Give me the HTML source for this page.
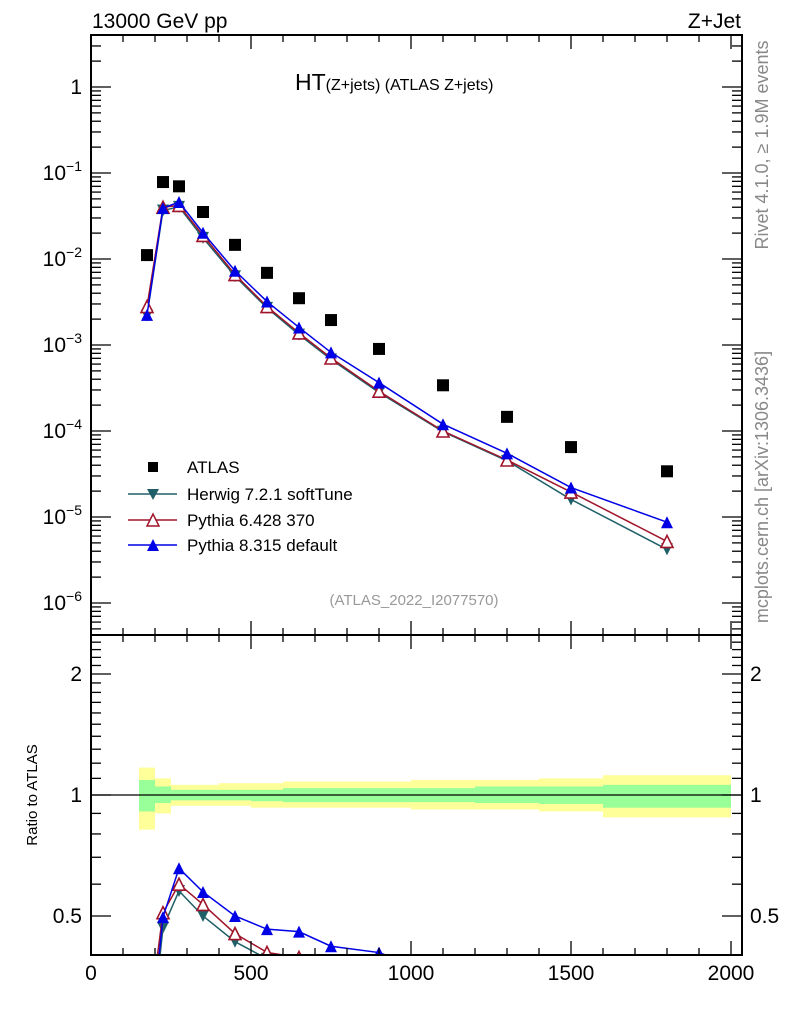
<!DOCTYPE html>
<html><head><meta charset="utf-8"><style>
html,body{margin:0;padding:0;background:#fff;width:786px;height:1024px;overflow:hidden;position:relative}
svg{display:block;font-family:"Liberation Sans",sans-serif}
</style></head><body>
<svg id="c" width="786" height="1024" style="position:absolute;left:0;top:0" xmlns="http://www.w3.org/2000/svg"></svg>
<script>
const binLo=[150,200,250,300,400,500,600,700,800,1000,1200,1400,1600];
const binHi=[200,250,300,400,500,600,700,800,1000,1200,1400,1600,2000];
const xPts=[175,225,275,350,450,550,650,750,900,1100,1300,1500,1800];
const atlas=[0.0111,0.0785,0.070,0.0352,0.0146,0.0069,0.0035,0.00195,0.00090,3.4e-4,1.46e-4,6.5e-5,3.4e-5];
const herwig=[0.0022,0.0367,0.0404,0.0176,0.0063,0.0027,0.00132,0.00068,2.8e-4,9.8e-5,4.5e-5,1.6e-5,4.2e-6];
const pythia6=[0.0028,0.040,0.042,0.0188,0.0066,0.0028,0.00138,7.06e-4,2.9e-4,1.0e-4,4.6e-5,1.95e-5,5.2e-6];
const pythia8=[0.00224,0.039,0.046,0.0202,0.0073,0.0032,0.0016,0.00082,3.65e-4,1.2e-4,5.5e-5,2.2e-5,8.7e-6];
const yellowUp=[1.17,1.10,1.06,1.06,1.07,1.07,1.08,1.08,1.08,1.09,1.09,1.10,1.12];
const yellowDn=[0.82,0.90,0.94,0.94,0.94,0.93,0.93,0.93,0.93,0.92,0.92,0.91,0.88];
const greenUp=[1.09,1.05,1.03,1.03,1.03,1.03,1.04,1.04,1.04,1.04,1.05,1.05,1.06];
const greenDn=[0.91,0.955,0.97,0.97,0.97,0.965,0.96,0.96,0.96,0.96,0.955,0.95,0.93];
const xTicks=[0,500,1000,1500,2000];
const mainTicks=[1,0.1,0.01,0.001,1e-4,1e-5,1e-6];
const mainLabels=["1","10^\u22121","10^\u22122","10^\u22123","10^\u22124","10^\u22125","10^\u22126"];
const ratioTicks=[0.5,1,2];
const ratioLabels=["0.5","1","2"];

const L=91,R=742,T=35,MB=635,B=955;
const X=v=>91+v*0.32;
const Y=v=>87-Math.log10(v)*86;
const RY=v=>795-Math.log2(v)*121;
const svg=document.getElementById('c');
const NS="http://www.w3.org/2000/svg";
function el(t,a,p){const e=document.createElementNS(NS,t);for(const k in a)e.setAttribute(k,a[k]);(p||svg).appendChild(e);return e;}
function txt(s,a,p){const e=el('text',a,p);e.textContent=s;return e;}

const defs=el('defs',{});
const c1=el('clipPath',{id:'cm'},defs);el('rect',{x:L,y:T,width:R-L,height:MB-T},c1);
const c2=el('clipPath',{id:'cr'},defs);el('rect',{x:L,y:MB,width:R-L,height:B-MB},c2);

const bands=el('g',{'clip-path':'url(#cr)'});


binLo.forEach((lo,i)=>{
  const y=el('rect',{x:X(lo),y:RY(yellowUp[i]),width:X(binHi[i])-X(lo),height:RY(yellowDn[i])-RY(yellowUp[i]),fill:'#ffff99'},bands);
  
  
  const g=el('rect',{x:X(lo),y:RY(greenUp[i]),width:X(binHi[i])-X(lo),height:RY(greenDn[i])-RY(greenUp[i]),fill:'#99ff99'},bands);
  
  
});
el('line',{x1:L,x2:R,y1:RY(1),y2:RY(1),stroke:'#000','stroke-width':1.2});

function marker(type,x,y,color,p){
  const s=6;
  if(type==='sq') return el('rect',{x:x-6,y:y-6,width:12,height:12,fill:'#000'},p);
  if(type==='dn') return el('polygon',{points:`${x-s},${y-s} ${x+s},${y-s} ${x},${y+s}`,fill:color},p);
  if(type==='up') return el('polygon',{points:`${x-s},${y+s} ${x+s},${y+s} ${x},${y-s}`,fill:color},p);
  if(type==='open') return el('polygon',{points:`${x-s},${y+s} ${x+s},${y+s} ${x},${y-s}`,fill:'#fff',stroke:color,'stroke-width':1.6},p);
}
const series=[
  {name:'herwig',vals:herwig,color:'#1f6068',m:'dn'},
  {name:'pythia6',vals:pythia6,color:'#a0142a',m:'open'},
  {name:'pythia8',vals:pythia8,color:'#0000e6',m:'up'}];

const gm=el('g',{'clip-path':'url(#cm)'});
series.forEach(s=>{
  const pts=xPts.map((x,i)=>X(x)+','+Y(s.vals[i])).join(' ');
  const ln=el('polyline',{points:pts,fill:'none',stroke:s.color,'stroke-width':1.5},gm);
  
  
  xPts.forEach((x,i)=>{const m=marker(s.m,X(x),Y(s.vals[i]),s.color,gm);
    
    });
});
xPts.forEach((x,i)=>{const m=marker('sq',X(x),Y(atlas[i]),'#000',gm);
  
  });

const gr=el('g',{'clip-path':'url(#cr)'});
series.forEach(s=>{
  const pts=xPts.map((x,i)=>X(x)+','+RY(s.vals[i]/atlas[i])).join(' ');
  const ln=el('polyline',{points:pts,fill:'none',stroke:s.color,'stroke-width':1.5},gr);
  
  
  xPts.forEach((x,i)=>{const m=marker(s.m,X(x),RY(s.vals[i]/atlas[i]),s.color,gr);
    
    });
});

el('rect',{x:L,y:T,width:R-L,height:MB-T,fill:'none',stroke:'#000','stroke-width':2});
el('rect',{x:L,y:MB,width:R-L,height:B-MB,fill:'none',stroke:'#000','stroke-width':2});

for(let v=0;v<=2000;v+=100){
  const maj=v%500===0, len=maj?14:7;
  [[T,1],[MB,-1],[MB,1],[B,-1]].forEach(([y0,d])=>el('line',{x1:X(v),x2:X(v),y1:y0,y2:y0+d*len,stroke:'#000','stroke-width':1.3}));
}
xTicks.forEach(v=>{const t=txt(String(v),{x:X(v),y:980,'font-size':21,'text-anchor':'middle'});
  
  });

for(let e=-7;e<=0;e++){
  for(let k=1;k<10;k++){
    const v=k*Math.pow(10,e), y=Y(v);
    if(y<T||y>MB)continue;
    const len=k===1?20:10;
    el('line',{x1:L,x2:L+len,y1:y,y2:y,stroke:'#000','stroke-width':1.3});
    el('line',{x1:R,x2:R-len,y1:y,y2:y,stroke:'#000','stroke-width':1.3});
  }
}
mainTicks.forEach((v,i)=>{
  const y=Y(v);
  const t=el('text',{x:82,y:y+7,'font-size':21,'text-anchor':'end'});
  
  
  const lab=mainLabels[i];
  if(lab==='1'){t.textContent='1';}
  else{const p=lab.split('^');
    const a=document.createElementNS(NS,'tspan');a.textContent=p[0];t.appendChild(a);
    const b=document.createElementNS(NS,'tspan');b.textContent=p[1];b.setAttribute('font-size','14');b.setAttribute('dy','-9');t.appendChild(b);}
});

for(let v=0.4;v<=2.55;v+=0.1){
  const y=RY(v); if(y<MB||y>B)continue;
  const r=Math.round(v*10)/10, maj=(r===0.5||r===1||r===2);
  const len=maj?20:10;
  el('line',{x1:L,x2:L+len,y1:y,y2:y,stroke:'#000','stroke-width':1.3});
  el('line',{x1:R,x2:R-len,y1:y,y2:y,stroke:'#000','stroke-width':1.3});
}
ratioTicks.forEach((v,i)=>{
  const a=txt(ratioLabels[i],{x:82,y:RY(v)+7,'font-size':21,'text-anchor':'end'});
  
  
  const b=txt(ratioLabels[i],{x:750,y:RY(v)+7,'font-size':21,'text-anchor':'start'});
  
  
});
</script>
<svg style="position:absolute;left:0;top:0" width="786" height="1024" xmlns="http://www.w3.org/2000/svg" font-family="Liberation Sans, sans-serif">
<text x="92" y="28" font-size="21">13000 GeV pp</text>
<text x="741" y="28" font-size="21" text-anchor="end">Z+Jet</text>
<text x="295" y="90" font-size="23">HT<tspan font-size="16">(Z+jets) (ATLAS Z+jets)</tspan></text>
<text transform="translate(768,145) rotate(-90)" font-size="18" fill="#888" text-anchor="middle">Rivet 4.1.0, ≥ 1.9M events</text>
<text transform="translate(768,487) rotate(-90)" font-size="18" fill="#888" text-anchor="middle">mcplots.cern.ch [arXiv:1306.3436]</text>
<text transform="translate(37,795) rotate(-90)" font-size="15" text-anchor="middle">Ratio to ATLAS</text>
<text x="414" y="605" font-size="15" fill="#999" text-anchor="middle">(ATLAS_2022_I2077570)</text>
<g font-size="17">
<rect x="148" y="462" width="10" height="10" fill="#000"/>
<text x="187" y="473">ATLAS</text>
<line x1="128" x2="177" y1="494" y2="494" stroke="#1f6068" stroke-width="1.5"/>
<polygon points="147,489 159,489 153,500" fill="#1f6068"/>
<text x="187" y="500">Herwig 7.2.1 softTune</text>
<line x1="128" x2="177" y1="520" y2="520" stroke="#a0142a" stroke-width="1.5"/>
<polygon points="147,526 159,526 153,514" fill="#fff" stroke="#a0142a" stroke-width="1.5"/>
<text x="187" y="526">Pythia 6.428 370</text>
<line x1="128" x2="177" y1="545" y2="545" stroke="#0000e6" stroke-width="1.5"/>
<polygon points="147,551 159,551 153,539" fill="#0000e6"/>
<text x="187" y="551">Pythia 8.315 default</text>
</g>
</svg>
</body></html>
